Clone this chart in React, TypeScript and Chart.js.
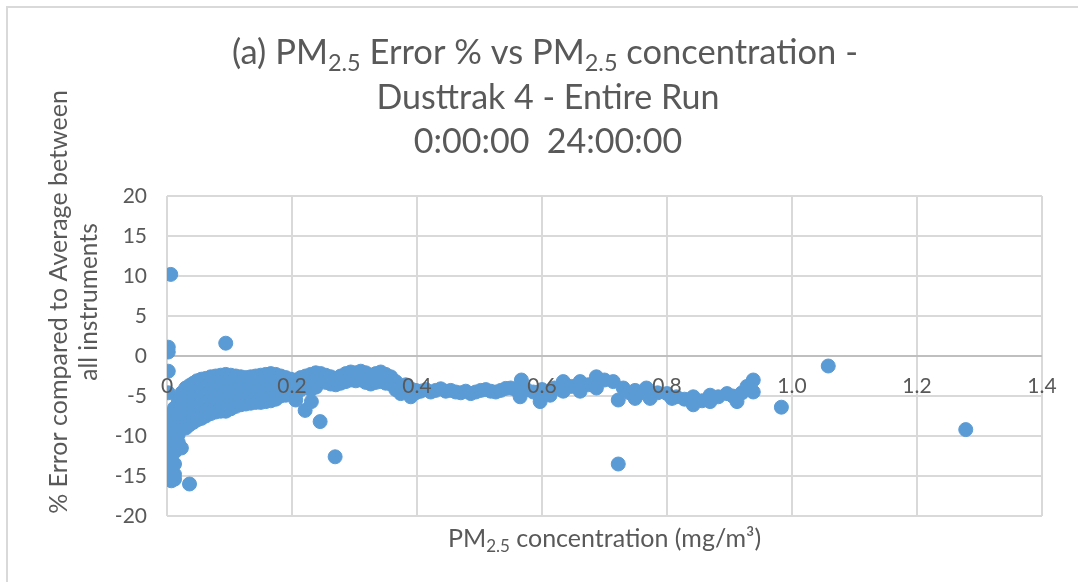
import React, { useEffect, useRef } from "react";
import { Chart, registerables } from "chart.js";

Chart.register(...registerables);

// ---------- text ----------
const titleLine1 = [
  { t: "(a) PM" },
  { t: "2.5", sub: true },
  { t: " Error % vs PM" },
  { t: "2.5", sub: true },
  { t: " concentration -" },
];
const titleLine2 = "Dusttrak 4 - Entire Run";
const titleLine3 = "0:00:00  24:00:00";
const xTitle = [{ t: "PM" }, { t: "2.5", sub: true }, { t: " concentration (mg/m³)" }];
const yTitleLine1 = "% Error compared to Average between";
const yTitleLine2 = "all instruments";

// ---------- axes ----------
const xMin = 0;
const xMax = 1.4;
const xStep = 0.2;
const yMin = -20;
const yMax = 20;
const yStep = 5;

// ---------- data ----------
// points on / very near x = 0
const nearZeroX = [
  0.006,
  0.002, 0.002, 0.002, 0.002, 0.002, 0.002, 0.002,
  0.007, 0.007, 0.007, 0.007, 0.007, 0.007,
  0.012, 0.012, 0.012, 0.012, 0.012, 0.012, 0.012, 0.012,
  0.018, 0.018, 0.018, 0.018, 0.018,
  0.023, 0.023,
  0.036,
];
const nearZeroY = [
  10.2,
  1.1, 0.5, -1.9, -4.6, -7.4, -10.1, -12.6,
  -8.5, -11.0, -13.3, -14.2, -15.0, -15.6,
  -6.5, -8.0, -9.5, -11.0, -12.0, -13.5, -14.8, -15.4,
  -5.5, -7.0, -8.5, -9.8, -10.8,
  -11.5, -9.0,
  -16.0,
];

// dense cluster 0.02 - 0.22 (each column x with its y readings)
const clusterX = [
  0.024, 0.03, 0.036, 0.042, 0.048, 0.055, 0.062, 0.07, 0.078, 0.086, 0.094, 0.102,
  0.11, 0.118, 0.126, 0.134, 0.142, 0.15, 0.158, 0.166, 0.174, 0.182, 0.19, 0.198,
  0.206, 0.214,
];
const clusterY = [
  [-4.6, -5.6, -6.6, -7.6],
  [-4.0, -5.0, -6.0, -7.0, -8.0, -9.0],
  [-3.7, -4.7, -5.7, -6.7, -7.7, -8.6],
  [-3.4, -4.4, -5.4, -6.4, -7.4, -8.3],
  [-3.1, -4.1, -5.1, -6.1, -7.1, -8.0],
  [-2.9, -3.9, -4.9, -5.9, -6.9, -7.8],
  [-2.8, -3.8, -4.8, -5.8, -6.8, -7.5],
  [-2.6, -3.6, -4.6, -5.6, -6.6, -7.2],
  [-2.5, -3.5, -4.5, -5.5, -6.5, -7.0],
  [-2.4, -3.4, -4.4, -5.4, -6.4, -6.9],
  [-2.3, -3.3, -4.3, -5.3, -6.3, -6.9],
  [-2.4, -3.3, -4.2, -5.1, -6.0, -6.6],
  [-2.5, -3.4, -4.3, -5.2, -6.3],
  [-2.6, -3.5, -4.4, -5.3, -6.1],
  [-2.7, -3.6, -4.5, -5.3, -6.0],
  [-2.6, -3.5, -4.4, -5.2, -5.9],
  [-2.5, -3.4, -4.3, -5.1, -5.8],
  [-2.4, -3.3, -4.2, -5.0, -5.8],
  [-2.3, -3.2, -4.1, -4.9, -5.7],
  [-2.2, -3.1, -4.0, -4.9, -5.6],
  [-2.3, -3.2, -4.1, -4.9, -5.4],
  [-2.5, -3.4, -4.2, -5.0],
  [-2.7, -3.5, -4.3, -4.9],
  [-2.9, -3.7, -4.5],
  [-3.0, -3.8, -4.8, -5.5],
  [-2.7, -3.5, -4.2],
];

// band 0.22 - 0.40
const bandX = [
  0.222, 0.23, 0.238, 0.246, 0.254, 0.262, 0.27, 0.278, 0.286, 0.294, 0.302, 0.31,
  0.318, 0.326, 0.334, 0.342, 0.35, 0.358, 0.366, 0.374, 0.382, 0.39, 0.398,
];
const bandY = [
  [-2.5, -3.4], [-2.3, -3.2, -4.2], [-2.1, -3.0, -3.9], [-2.2, -3.1], [-2.4, -3.3],
  [-2.6, -3.5], [-2.8, -3.6], [-2.5, -3.4], [-2.2, -3.2], [-2.0, -3.0], [-2.1, -3.1],
  [-1.9, -3.0], [-2.1, -3.3], [-2.4, -3.5], [-2.2, -3.3], [-2.0, -3.2], [-2.3, -3.4],
  [-2.6, -3.5], [-3.2, -4.2], [-3.8, -4.7], [-3.6, -4.4], [-4.1, -5.1], [-4.3, -4.6],
];

// flat band 0.40 - 0.56
const flatX = [
  0.406, 0.414, 0.422, 0.43, 0.438, 0.446, 0.454, 0.462, 0.47, 0.478, 0.486, 0.494,
  0.502, 0.51, 0.518, 0.526, 0.534, 0.542, 0.55,
];
const flatY = [
  -4.4, -4.2, -4.5, -4.3, -4.1, -4.4, -4.3, -4.5, -4.6, -4.4, -4.7, -4.5,
  -4.3, -4.2, -4.4, -4.5, -4.3, -4.05, -4.0,
];

// tail 0.56 - 0.94
const tailX = [
  0.558, 0.567, 0.565, 0.575, 0.586, 0.597, 0.6, 0.613, 0.62, 0.634, 0.634, 0.647,
  0.661, 0.661, 0.674, 0.687, 0.687, 0.7, 0.714, 0.722, 0.73, 0.74, 0.749, 0.749,
  0.758, 0.767, 0.773, 0.785, 0.8, 0.808, 0.815, 0.828, 0.842, 0.842, 0.856, 0.869,
  0.869, 0.882, 0.896, 0.905, 0.912, 0.92, 0.928, 0.938, 0.938,
];
const tailY = [
  -4.2, -3.0, -5.1, -4.2, -4.5, -5.7, -4.2, -4.9, -4.0, -3.2, -4.4, -3.8,
  -3.2, -4.4, -3.6, -2.6, -4.0, -3.0, -3.2, -5.5, -4.0, -4.6, -4.3, -5.3,
  -4.6, -4.0, -5.3, -4.6, -4.7, -5.3, -5.1, -5.4, -5.1, -6.1, -5.6, -4.9,
  -5.7, -5.1, -4.7, -5.0, -5.7, -4.6, -3.8, -3.0, -4.5,
];

// isolated points
const outlierX = [0.094, 0.221, 0.231, 0.245, 0.269, 0.722, 0.983, 1.058, 1.278];
const outlierY = [1.6, -6.8, -5.7, -8.2, -12.6, -13.5, -6.4, -1.25, -9.2];

// ---------- styles ----------
const FONT = "Lato, 'Open Sans', 'Noto Sans', sans-serif";
const TEXT_COLOR = "#595959";
const GRID_COLOR = "#d9d9d9";
const ZERO_COLOR = "#bfbfbf";
const POINT_COLOR = "#5b9bd5";

type Seg = { t: string; sub?: boolean };

function drawSegs(
  ctx: CanvasRenderingContext2D,
  segs: Seg[],
  cx: number,
  cy: number,
  size: number,
  rotate = false
) {
  const subSize = size * 0.68;
  const widths = segs.map((s) => {
    ctx.font = `${s.sub ? subSize : size}px ${FONT}`;
    return ctx.measureText(s.t).width;
  });
  const total = widths.reduce((a, b) => a + b, 0);
  ctx.save();
  ctx.translate(cx, cy);
  if (rotate) ctx.rotate(-Math.PI / 2);
  ctx.fillStyle = TEXT_COLOR;
  ctx.textAlign = "left";
  ctx.textBaseline = "alphabetic";
  let x = -total / 2;
  const base = size * 0.36;
  segs.forEach((s, i) => {
    ctx.font = `${s.sub ? subSize : size}px ${FONT}`;
    ctx.fillText(s.t, x, base + (s.sub ? size * 0.2 : 0));
    x += widths[i];
  });
  ctx.restore();
}

const decorPlugin = {
  id: "decor",
  beforeDraw(chart: any) {
    const ctx = chart.ctx as CanvasRenderingContext2D;
    ctx.save();
    ctx.strokeStyle = GRID_COLOR;
    ctx.lineWidth = 2;
    ctx.beginPath();
    ctx.moveTo(7, chart.height);
    ctx.lineTo(7, 7);
    ctx.lineTo(chart.width, 7);
    ctx.stroke();
    ctx.restore();
  },
  afterDraw(chart: any) {
    const ctx = chart.ctx as CanvasRenderingContext2D;
    const area = chart.chartArea;
    drawSegs(ctx, titleLine1, 545, 52, 34.5);
    drawSegs(ctx, [{ t: titleLine2 }], 548, 97, 34);
    drawSegs(ctx, [{ t: titleLine3 }], 548, 141, 34);
    drawSegs(ctx, xTitle, (area.left + area.right) / 2, 538, 25);
    drawSegs(ctx, [{ t: yTitleLine1 }], 58, 302, 25, true);
    drawSegs(ctx, [{ t: yTitleLine2 }], 88, 302, 24.5, true);
  },
};

function buildPoints() {
  const pts: { x: number; y: number }[] = [];
  nearZeroX.forEach((x, i) => pts.push({ x, y: nearZeroY[i] }));
  clusterX.forEach((x, i) => clusterY[i].forEach((y) => pts.push({ x, y })));
  bandX.forEach((x, i) => bandY[i].forEach((y) => pts.push({ x, y })));
  flatX.forEach((x, i) => pts.push({ x, y: flatY[i] }));
  tailX.forEach((x, i) => pts.push({ x, y: tailY[i] }));
  outlierX.forEach((x, i) => pts.push({ x, y: outlierY[i] }));
  return pts;
}

export default function App() {
  const canvasRef = useRef<HTMLCanvasElement | null>(null);

  useEffect(() => {
    const canvas = canvasRef.current;
    if (!canvas) return;
    const chart = new Chart(canvas, {
      type: "scatter",
      data: {
        datasets: [
          {
            label: "Error %",
            data: buildPoints(),
            xAxisID: "x",
            yAxisID: "y",
            backgroundColor: POINT_COLOR,
            borderColor: POINT_COLOR,
            borderWidth: 1,
            pointRadius: 7,
            pointHoverRadius: 7,
          },
        ],
      },
      options: {
        responsive: false,
        maintainAspectRatio: false,
        devicePixelRatio: 1,
        animation: false,
        layout: { padding: { left: 0, right: 36, top: 196, bottom: 66 } },
        plugins: {
          legend: { display: false },
          tooltip: { enabled: false },
          title: { display: false },
        },
        scales: {
          x: {
            type: "linear",
            position: "bottom",
            min: xMin,
            max: xMax,
            ticks: { display: false, stepSize: xStep },
            grid: { color: GRID_COLOR, lineWidth: 2, drawTicks: false },
            border: { display: false },
          },
          x2: {
            type: "linear",
            position: { y: 0 },
            min: xMin,
            max: xMax,
            ticks: {
              stepSize: xStep,
              color: TEXT_COLOR,
              font: { family: FONT, size: 21 },
              padding: 18,
              maxRotation: 0,
              z: 2,
            },
            grid: { display: false, drawTicks: false },
            border: { display: false },
          },
          y: {
            type: "linear",
            position: "left",
            min: yMin,
            max: yMax,
            ticks: {
              stepSize: yStep,
              color: TEXT_COLOR,
              font: { family: FONT, size: 21 },
              padding: 20,
            },
            grid: {
              color: (c: any) => (c.tick && c.tick.value === 0 ? ZERO_COLOR : GRID_COLOR),
              lineWidth: 2,
              drawTicks: false,
            },
            border: { display: false },
            afterFit: (scale: any) => {
              scale.width = 167;
            },
          },
        },
      },
      plugins: [decorPlugin],
    } as any);
    return () => chart.destroy();
  }, []);

  return (
    <div style={{ position: "absolute", left: 0, top: 0, width: 1078, height: 582, background: "#fff" }}>
      <canvas ref={canvasRef} width={1078} height={582} style={{ display: "block", width: 1078, height: 582 }} />
    </div>
  );
}
